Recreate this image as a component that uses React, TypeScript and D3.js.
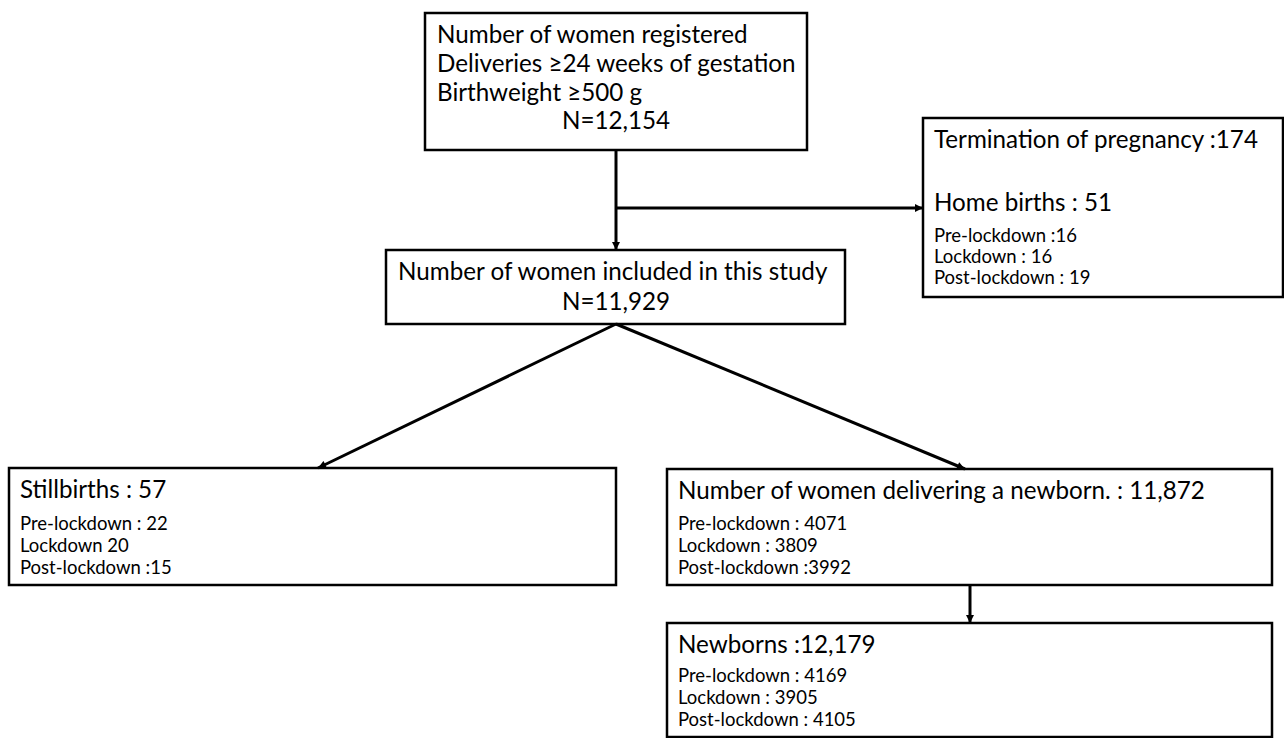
import { useMemo } from 'react'
import * as d3 from 'd3'

const WIDTH = 1284
const HEIGHT = 738
const FONT = 'Lato, "Open Sans", sans-serif'

// box texts
const REGISTERED_LINES = ['Number of women registered', 'Deliveries ≥24 weeks of gestation', 'Birthweight ≥500 g']
const REGISTERED_N = 'N=12,154'
const INCLUDED_TITLE = 'Number of women included in this study'
const INCLUDED_N = 'N=11,929'
const EXCLUDED_TITLE = 'Termination of pregnancy :174'
const HOME_TITLE = 'Home births : 51'
const HOME_LINES = ['Pre-lockdown :16', 'Lockdown : 16', 'Post-lockdown : 19']
const STILL_TITLE = 'Stillbirths : 57'
const STILL_LINES = ['Pre-lockdown : 22', 'Lockdown 20', 'Post-lockdown :15']
const DELIVER_TITLE = 'Number of women delivering a newborn. : 11,872'
const DELIVER_LINES = ['Pre-lockdown : 4071', 'Lockdown : 3809', 'Post-lockdown :3992']
const NEWBORN_TITLE = 'Newborns :12,179'
const NEWBORN_LINES = ['Pre-lockdown : 4169', 'Lockdown : 3905', 'Post-lockdown : 4105']

// layout (pixels)
const BOX = {
  registered: { x0: 425, x1: 807, y0: 13, y1: 150 },
  excluded: { x0: 923, x1: 1283, y0: 118, y1: 297 },
  included: { x0: 386, x1: 845, y0: 250, y1: 324 },
  still: { x0: 9, x1: 616, y0: 468, y1: 585 },
  deliver: { x0: 667, x1: 1272, y0: 469, y1: 585 },
  newborn: { x0: 667, x1: 1272, y0: 623, y1: 737 }
}

const BIG = 24.2
const SMALL = 18.5

export default function App() {
  const line = d3.line<[number, number]>()

  const arrows = useMemo(() => [
    // registered -> included
    [[616, BOX.registered.y1], [616, BOX.included.y0]],
    // branch -> excluded
    [[616, 208], [BOX.excluded.x0, 208]],
    // included -> still
    [[616, BOX.included.y1], [318, BOX.still.y0]],
    // included -> deliver
    [[616, BOX.included.y1], [965, BOX.deliver.y0]],
    // deliver -> newborn
    [[970, BOX.deliver.y1], [970, BOX.newborn.y0]]
  ] as [number, number][][], [])

  const boxes = Object.values(BOX)

  const sub = (lines: string[], x: number, y: number, step: number) =>
    lines.map((t, i) => (
      <text key={t} x={x} y={y + i * step} fontSize={SMALL}>{t}</text>
    ))

  return (
    <svg
      width={WIDTH}
      height={HEIGHT}
      style={{ position: 'absolute', left: 0, top: 0, background: '#fff' }}
      fontFamily={FONT}
    >
      <defs>
        <marker
          id="arrow"
          viewBox="0 0 10 10"
          refX={10}
          refY={5}
          markerWidth={9}
          markerHeight={8}
          markerUnits="userSpaceOnUse"
          orient="auto"
        >
          <path d="M0,0 L10,5 L0,10 Z" fill="#000" />
        </marker>
      </defs>

      {/* Boxes */}
      {boxes.map((b, i) => (
        <rect
          key={i}
          x={b.x0}
          y={b.y0}
          width={b.x1 - b.x0}
          height={b.y1 - b.y0}
          fill="#fff"
          stroke="#000"
          strokeWidth={2.5}
        />
      ))}

      {/* Connectors */}
      {arrows.map((pts, i) => (
        <path
          key={i}
          d={line(pts) ?? ''}
          fill="none"
          stroke="#000"
          strokeWidth={3}
          markerEnd="url(#arrow)"
        />
      ))}

      <g fill="#000">
        {REGISTERED_LINES.map((t, i) => (
          <text key={t} x={437} y={43 + i * 29} fontSize={BIG}>{t}</text>
        ))}
        <text x={616} y={129} fontSize={BIG} textAnchor="middle">{REGISTERED_N}</text>

        <text x={934} y={148} fontSize={BIG}>{EXCLUDED_TITLE}</text>
        <text x={934} y={211} fontSize={BIG}>{HOME_TITLE}</text>
        {sub(HOME_LINES, 934, 242, 21)}

        <text x={398} y={280} fontSize={BIG}>{INCLUDED_TITLE}</text>
        <text x={616} y={310} fontSize={BIG} textAnchor="middle">{INCLUDED_N}</text>

        <text x={20} y={498} fontSize={BIG}>{STILL_TITLE}</text>
        {sub(STILL_LINES, 20, 530, 22)}

        <text x={678} y={499} fontSize={BIG}>{DELIVER_TITLE}</text>
        {sub(DELIVER_LINES, 678, 530, 22)}

        <text x={678} y={653} fontSize={BIG}>{NEWBORN_TITLE}</text>
        {sub(NEWBORN_LINES, 678, 682, 22)}
      </g>
    </svg>
  )
}
